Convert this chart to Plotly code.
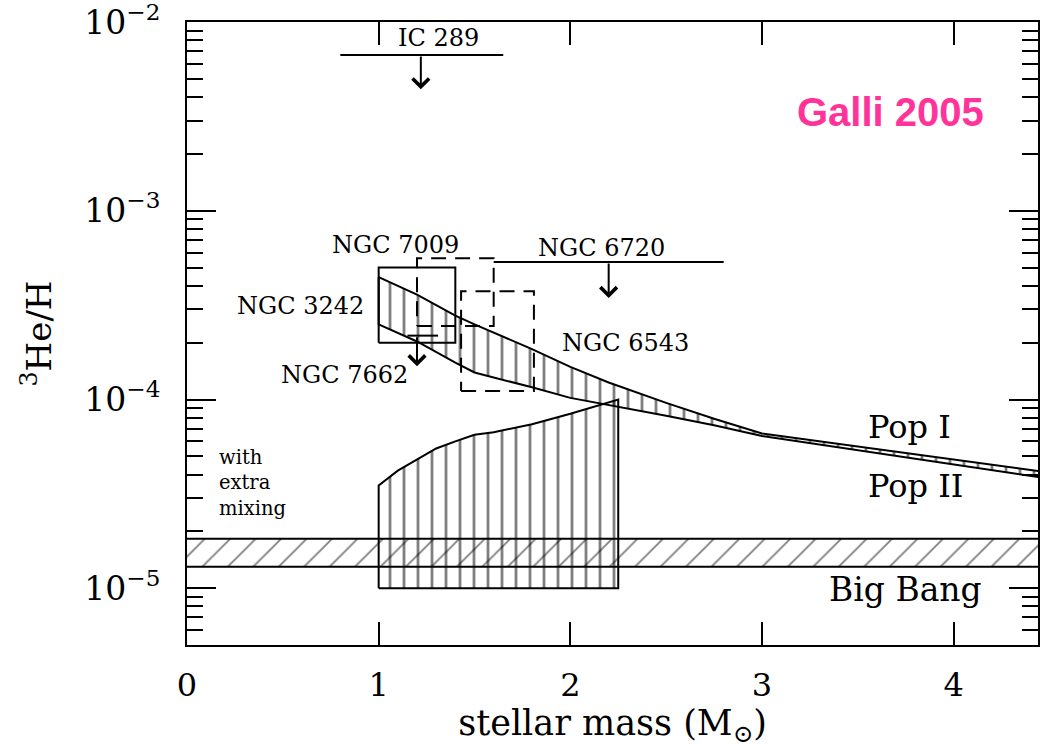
import numpy as np
import plotly.graph_objects as go

# Pop I / Pop II band: 3He/H surviving in stellar ejecta vs. initial mass
band_mass = [1.0, 1.2, 1.4, 1.5, 1.8, 2.0, 2.2, 2.5, 2.75, 3.0, 4.5]
band_upper = [4.45e-4, 3.6e-4, 2.78e-4, 2.5e-4, 1.85e-4, 1.49e-4, 1.23e-4, 9.6e-5, 7.9e-5, 6.6e-5, 4.1e-5]
band_lower = [2.5e-4, 2.03e-4, 1.57e-4, 1.39e-4, 1.16e-4, 1.02e-4, 9.3e-5, 8.2e-5, 7.3e-5, 6.4e-5, 3.8e-5]

# models with extra mixing
mix_mass = [1.0, 1.1, 1.2, 1.3, 1.4, 1.5, 1.6, 1.8, 2.0, 2.2, 2.25]
mix_upper = [3.5e-5, 4.2e-5, 4.8e-5, 5.5e-5, 6.0e-5, 6.5e-5, 6.7e-5, 7.4e-5, 8.4e-5, 9.6e-5, 1.0e-4]
mix_floor = 1.0e-5

# primordial (Big Bang) value
bbn_low, bbn_high = 1.3e-5, 1.83e-5

# planetary nebulae with measured abundances (mass range x abundance range)
pn_names = ["NGC 3242", "NGC 7009", "NGC 6543"]
pn_mass_lo = [1.0, 1.2, 1.43]
pn_mass_hi = [1.4, 1.6, 1.81]
pn_he_lo = [2.0e-4, 2.45e-4, 1.11e-4]
pn_he_hi = [5.0e-4, 5.6e-4, 3.75e-4]
pn_dash = ["solid", "15px,9px", "15px,9px"]

# planetary nebulae with upper limits
lim_names = ["IC 289", "NGC 6720", "NGC 7662"]
lim_mass_lo = [0.80, 1.6, 1.15]
lim_mass_hi = [1.65, 2.8, 1.31]
lim_mass_arrow = [1.22, 2.2, 1.2]
lim_value = [6.7e-3, 5.35e-4, 2.18e-4]
lim_arrow_tip = [4.4e-3, 3.45e-4, 1.5e-4]

# axes
x_range = [0, 4.44]
y_range = [np.log10(5e-6), -1.9995]
y_tick_exp = [-5, -4, -3, -2]

SERIF = "DejaVu Serif"
INK = "black"
CLEAR = "rgba(0,0,0,0)"

fig = go.Figure()

# Big Bang band spanning all masses
fig.add_trace(go.Scatter(
    x=[x_range[0], x_range[1], x_range[1], x_range[0], x_range[0]],
    y=[bbn_low, bbn_low, bbn_high, bbn_high, bbn_low],
    mode="lines", fill="toself", fillcolor=CLEAR,
    fillpattern=dict(shape="/", size=18, solidity=0.1, fgcolor=INK, bgcolor=CLEAR),
    line=dict(color=INK, width=0), hoverinfo="skip", showlegend=False,
))
for level in (bbn_low, bbn_high):
    fig.add_trace(go.Scatter(x=x_range, y=[level, level], mode="lines",
                             line=dict(color=INK, width=2), hoverinfo="skip", showlegend=False))

# extra-mixing region
fig.add_trace(go.Scatter(
    x=[mix_mass[0]] + mix_mass + [mix_mass[-1], mix_mass[0]],
    y=[mix_floor] + mix_upper + [mix_floor, mix_floor],
    mode="lines", fill="toself", fillcolor=CLEAR,
    fillpattern=dict(shape="|", size=14, solidity=0.2, fgcolor=INK, bgcolor=CLEAR),
    line=dict(color=INK, width=2), hoverinfo="skip", showlegend=False,
))

# Pop I / Pop II band
fig.add_trace(go.Scatter(
    x=band_mass + band_mass[::-1] + [band_mass[0]],
    y=band_upper + band_lower[::-1] + [band_upper[0]],
    mode="lines", fill="toself", fillcolor=CLEAR,
    fillpattern=dict(shape="|", size=14, solidity=0.2, fgcolor=INK, bgcolor=CLEAR),
    line=dict(color=INK, width=2), hoverinfo="skip", showlegend=False,
))

# PN boxes
for lo, hi, ylo, yhi, dash in zip(pn_mass_lo, pn_mass_hi, pn_he_lo, pn_he_hi, pn_dash):
    fig.add_trace(go.Scatter(
        x=[lo, hi, hi, lo, lo], y=[ylo, ylo, yhi, yhi, ylo], mode="lines",
        line=dict(color=INK, width=2, dash=dash), hoverinfo="skip", showlegend=False,
    ))

# upper limits: horizontal bar plus downward arrow
for lo, hi, val in zip(lim_mass_lo, lim_mass_hi, lim_value):
    fig.add_trace(go.Scatter(
        x=[lo, hi], y=[val, val], mode="lines",
        line=dict(color=INK, width=2), hoverinfo="skip", showlegend=False,
    ))

annotations = []
for xm, val, tip in zip(lim_mass_arrow, lim_value, lim_arrow_tip):
    annotations.append(dict(
        x=xm, y=np.log10(tip), ax=xm, ay=np.log10(val), xref="x", yref="y",
        axref="x", ayref="y", text="", showarrow=True, arrowhead=4,
        arrowsize=1.6, arrowwidth=2, arrowcolor=INK, standoff=0, startstandoff=0,
    ))


def label(text, xm, logy, size, xanchor="center", family=SERIF, color=INK, weight="normal"):
    annotations.append(dict(
        x=xm, y=logy, xref="x", yref="y", text=text, showarrow=False,
        xanchor=xanchor, yanchor="middle", align=xanchor if xanchor != "center" else "center",
        borderpad=0,
        font=dict(family=family, size=size, color=color, weight=weight),
    ))


label("IC 289", 1.31, -2.085, 24)
label("NGC 7009", 1.09, -3.18, 24)
label("NGC 3242", 0.59, -3.503, 24)
label("NGC 7662", 0.824, -3.868, 24)
label("NGC 6720", 2.16, -3.196, 24)
label("NGC 6543", 2.29, -3.698, 24)
label("Pop I", 3.77, -4.148, 32)
label("Pop II", 3.80, -4.46, 32)
label("Big Bang", 3.75, -5.005, 33)
label("with<br>extra<br>mixing", 0.162, -4.44, 19.5, xanchor="left")
label("Galli 2005", 3.672, -2.476, 40, family="Liberation Sans", color="#ff3399", weight="bold")

fig.update_layout(
    width=1040, height=748,
    margin=dict(l=187, r=2, t=22, b=103, autoexpand=False),
    paper_bgcolor="white", plot_bgcolor="white",
    annotations=annotations,
    showlegend=False,
)

fig.update_xaxes(
    range=x_range, tickvals=[0, 1, 2, 3, 4], ticktext=["0", "1", "2", "3", "4"],
    ticks="inside", ticklen=23, tickwidth=2, tickcolor=INK,
    showline=True, linewidth=2, linecolor=INK, mirror="ticks",
    showgrid=False, zeroline=False, ticklabelstandoff=11, automargin=False,
    tickfont=dict(family=SERIF, size=32, color=INK),
    title=dict(text="stellar mass (M<sub>⊙</sub>)", font=dict(family=SERIF, size=35, color=INK), standoff=18),
)
fig.update_yaxes(
    type="log", range=y_range,
    tickvals=[10.0 ** e for e in y_tick_exp],
    ticktext=[f"10<sup>−{-e}</sup>" for e in y_tick_exp],
    ticks="inside", ticklen=29, tickwidth=2, tickcolor=INK,
    minor=dict(ticks="inside", ticklen=16, tickwidth=2, tickcolor=INK, dtick="D1", showgrid=False),
    showline=True, linewidth=2, linecolor=INK, mirror="ticks",
    showgrid=False, zeroline=False, ticklabelstandoff=18, automargin=False,
    ticklabeloverflow="allow",
    tickfont=dict(family=SERIF, size=33, color=INK),
    title=dict(text="<sup>3</sup>He/H", font=dict(family=SERIF, size=34, color=INK), standoff=22),
)

fig.write_html("out.html")
